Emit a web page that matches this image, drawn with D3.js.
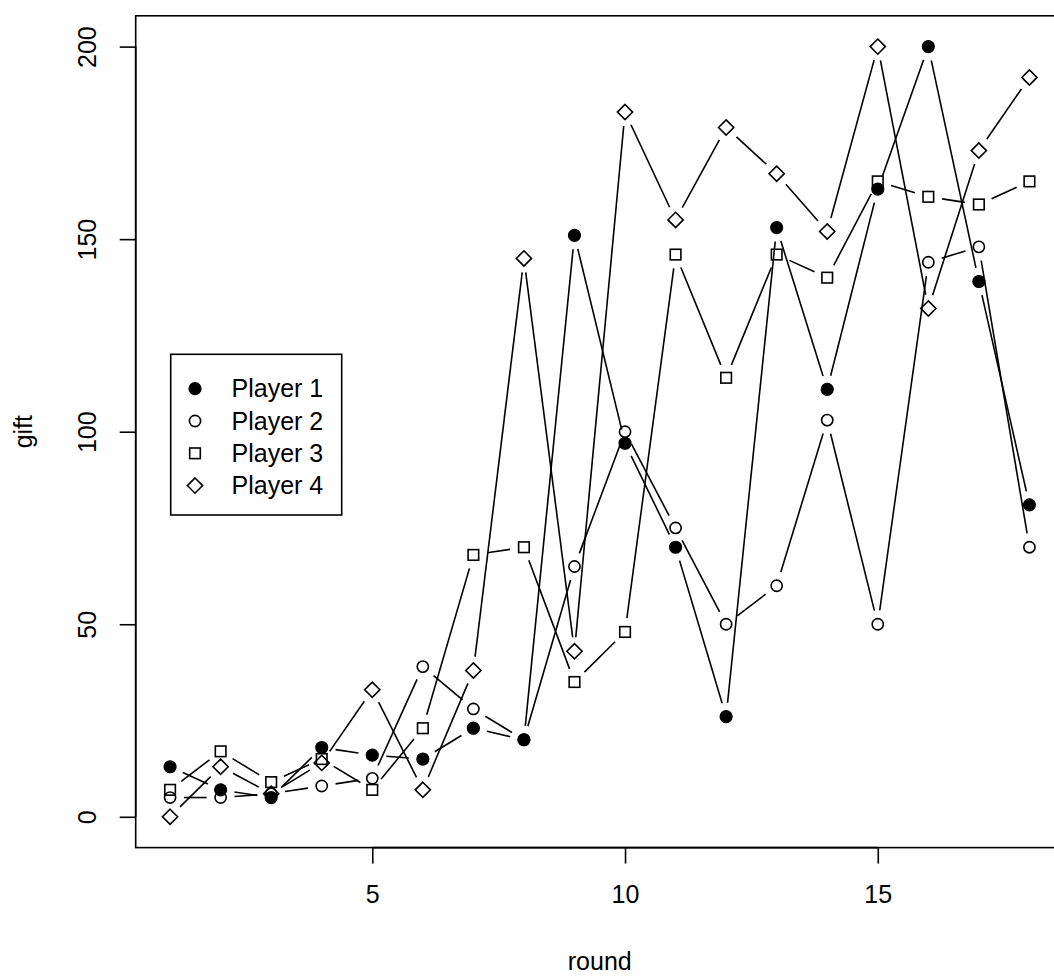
<!DOCTYPE html>
<html>
<head>
<meta charset="utf-8">
<script src="https://cdn.jsdelivr.net/npm/d3@7"></script>
<style>
  html, body { margin: 0; padding: 0; background: #fff; }
  svg { display: block; }
  text { font-family: "Liberation Sans", Arial, Helvetica, sans-serif; fill: #000; }
</style>
</head>
<body>
<svg id="chart" width="1054" height="977"></svg>
<script>
// ---- data ----
const rounds = [1, 2, 3, 4, 5, 6, 7, 8, 9, 10, 11, 12, 13, 14, 15, 16, 17, 18];
const player1 = [13, 7, 5, 18, 16, 15, 23, 20, 151, 97, 70, 26, 153, 111, 163, 200, 139, 81];
const player2 = [5, 5, 6, 8, 10, 39, 28, 20, 65, 100, 75, 50, 60, 103, 50, 144, 148, 70];
const player3 = [7, 17, 9, 15, 7, 23, 68, 70, 35, 48, 146, 114, 146, 140, 165, 161, 159, 165];
const player4 = [0, 13, 6, 14, 33, 7, 38, 145, 43, 183, 155, 179, 167, 152, 200, 132, 173, 192];
const seriesNames = ["Player 1", "Player 2", "Player 3", "Player 4"];
const symbols = ["filledCircle", "circle", "square", "diamond"];
const xTicks = [5, 10, 15];
const yTicks = [0, 50, 100, 150, 200];
const xLabel = "round";
const yLabel = "gift";

const seriesValues = [player1, player2, player3, player4];

// ---- layout ----
const svg = d3.select("#chart");
const FS = 25;
const x = d3.scaleLinear().domain([0.32, 18.68]).range([135.7, 1063.8]);
const y = d3.scaleLinear().domain([-8, 208]).range([847.6, 15.8]);
const LW = 1.6;

// plot box
svg.append("rect")
  .attr("x", x.range()[0]).attr("y", y.range()[1])
  .attr("width", x.range()[1] - x.range()[0])
  .attr("height", y.range()[0] - y.range()[1])
  .attr("fill", "none").attr("stroke", "#000").attr("stroke-width", LW);

// x axis
const xAxis = d3.axisBottom(x).tickValues(xTicks).tickSize(16).tickPadding(22).tickFormat(d3.format("d"));
const gx = svg.append("g").attr("transform", `translate(0,${y.range()[0]})`).call(xAxis);
gx.select(".domain").attr("d", `M${x(xTicks[0])},0H${x(xTicks[xTicks.length-1])}`).attr("stroke-width", LW);
gx.selectAll(".tick line").attr("stroke-width", LW);
gx.selectAll(".tick text").attr("font-size", FS).attr("font-family", "Liberation Sans, Arial, sans-serif").attr("dy", "0.71em");

// y axis
const yAxis = d3.axisLeft(y).tickValues(yTicks).tickSize(16).tickFormat(d3.format("d"));
const gy = svg.append("g").attr("transform", `translate(${x.range()[0]},0)`).call(yAxis);
gy.select(".domain").attr("d", `M0,${y(yTicks[0])}V${y(yTicks[yTicks.length-1])}`).attr("stroke-width", LW);
gy.selectAll(".tick line").attr("stroke-width", LW);
gy.selectAll(".tick text").remove();
gy.selectAll(".tick").append("text")
  .attr("transform", "translate(-40,0) rotate(-90)")
  .attr("text-anchor", "middle")
  .attr("font-size", FS)
  .attr("font-family", "Liberation Sans, Arial, sans-serif")
  .attr("fill", "#000")
  .text(d => d3.format("d")(d));

// axis titles
svg.append("text").attr("x", (x.range()[0] + x.range()[1]) / 2).attr("y", 970)
  .attr("text-anchor", "middle").attr("font-size", FS).text(xLabel);
svg.append("text").attr("transform", `translate(32,${(y.range()[0] + y.range()[1]) / 2}) rotate(-90)`)
  .attr("text-anchor", "middle").attr("font-size", FS).text(yLabel);

// ---- symbols ----
function drawSymbol(g, type, cx, cy) {
  if (type === "filledCircle") {
    g.append("circle").attr("cx", cx).attr("cy", cy).attr("r", 6)
      .attr("fill", "#000").attr("stroke", "#000").attr("stroke-width", 1.2);
  } else if (type === "circle") {
    g.append("circle").attr("cx", cx).attr("cy", cy).attr("r", 5.6)
      .attr("fill", "none").attr("stroke", "#000").attr("stroke-width", LW);
  } else if (type === "square") {
    const s = 5.3;
    g.append("rect").attr("x", cx - s).attr("y", cy - s).attr("width", 2 * s).attr("height", 2 * s)
      .attr("fill", "none").attr("stroke", "#000").attr("stroke-width", LW);
  } else if (type === "diamond") {
    const s = 7.6;
    g.append("path").attr("d", `M${cx},${cy - s}L${cx + s},${cy}L${cx},${cy + s}L${cx - s},${cy}Z`)
      .attr("fill", "none").attr("stroke", "#000").attr("stroke-width", LW);
  }
}

// ---- series (type = "b": lines with gaps around points) ----
const GAP = 14;
const plotG = svg.append("g");
seriesValues.forEach((vals, si) => {
  const g = plotG.append("g");
  const pts = rounds.map((r, i) => [x(r), y(vals[i])]);
  for (let i = 0; i < pts.length - 1; i++) {
    const [x0, y0] = pts[i], [x1, y1] = pts[i + 1];
    const dx = x1 - x0, dy = y1 - y0;
    const len = Math.hypot(dx, dy);
    if (len <= 2 * GAP) continue;
    const ux = dx / len, uy = dy / len;
    g.append("line")
      .attr("x1", x0 + ux * GAP).attr("y1", y0 + uy * GAP)
      .attr("x2", x1 - ux * GAP).attr("y2", y1 - uy * GAP)
      .attr("stroke", "#000").attr("stroke-width", LW);
  }
  pts.forEach(([px, py]) => drawSymbol(g, symbols[si], px, py));
});

// ---- legend ----
const lg = svg.append("g");
lg.append("rect").attr("x", 170.7).attr("y", 354.3).attr("width", 171).attr("height", 160.7)
  .attr("fill", "#fff").attr("stroke", "#000").attr("stroke-width", LW);
const rowY = [388.7, 421, 453.3, 485.6];
seriesNames.forEach((name, i) => {
  drawSymbol(lg, symbols[i], 195, rowY[i]);
  lg.append("text").attr("x", 231.5).attr("y", rowY[i]).attr("dy", "0.35em")
    .attr("font-size", FS).text(name);
});
</script>
</body>
</html>
